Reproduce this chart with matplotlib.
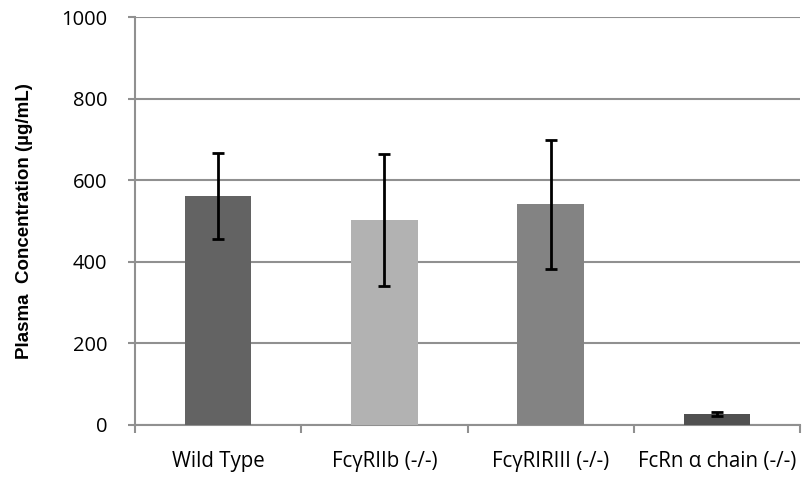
import matplotlib.pyplot as plt
import numpy as np

# ------------------ DADOS ------------------ #
grupos = ["Wild Type", "FcγRIIb (-/-)", "FcγRIRIII (-/-)", "FcRn α chain (-/-)"]
concentracao = [562, 502, 541, 26]
erro = [106, 162, 158, 5]
cores = ["#636363", "#b2b2b2", "#838383", "#505050"]

# ------------------ GRAFICO ------------------ #
fig = plt.figure(figsize=(8.04, 4.8), dpi=100)
ax = fig.add_axes([0.168, 0.115, 0.827, 0.849])

x = np.arange(len(grupos))
ax.bar(x, concentracao, width=0.4, color=cores, zorder=3)
ax.errorbar(x, concentracao, yerr=erro, fmt="none", ecolor="black",
            elinewidth=2, capsize=4.5, capthick=2, zorder=4)

ax.set_xlim(-0.5, len(grupos) - 0.5)
ax.set_ylim(0, 1000)
ax.set_yticks(range(0, 1001, 200))
ax.yaxis.grid(True, color="#909090", linewidth=1.5, zorder=0)

ax.set_xticks(x)
ax.set_xticklabels(grupos, family="Open Sans", fontsize=14.8)
ax.set_xticks(np.arange(-0.5, len(grupos)), minor=True)
ax.tick_params(axis="x", which="major", length=0, pad=19)
ax.tick_params(axis="x", which="minor", length=6, width=1.5, color="#909090",
               direction="out")
ax.tick_params(axis="y", length=5, width=1.5, color="#909090", pad=15,
               labelsize=14.5)
for lbl in ax.get_yticklabels():
    lbl.set_family("Open Sans")

for lado in ["top", "right"]:
    ax.spines[lado].set_visible(False)
for lado in ["left", "bottom"]:
    ax.spines[lado].set_color("#909090")
    ax.spines[lado].set_linewidth(1.5)

ax.set_ylabel("Plasma  Concentration (µg/mL)", family="Liberation Sans",
              fontweight="bold", fontsize=13.5, labelpad=20)

fig.savefig("out.png", dpi=100)
